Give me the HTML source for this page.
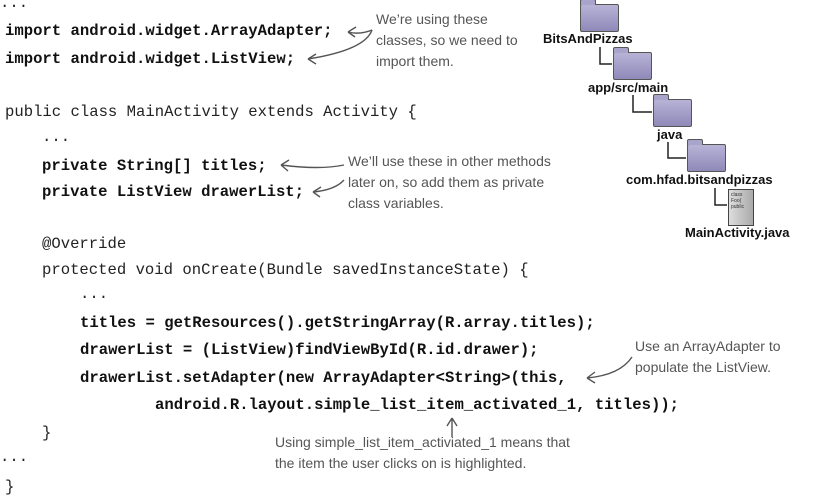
<!DOCTYPE html>
<html><head><meta charset="utf-8"><style>
body{margin:0;width:813px;height:494px;background:#fff;position:relative;overflow:hidden}
.c{position:absolute;font-family:"Liberation Mono",monospace;font-size:15.6px;color:#222;white-space:pre;line-height:18px}
.b{font-weight:bold;color:#111}
.n{position:absolute;font-family:"Liberation Sans",sans-serif;font-size:14px;color:#555;white-space:pre;line-height:21px}
.l{position:absolute;font-family:"Liberation Sans",sans-serif;font-size:13px;font-weight:bold;color:#111;white-space:pre}
.f{position:absolute;width:37px;height:26px;background:linear-gradient(#b8b3d6,#8f89b8);border:1px solid #555;border-radius:2px}
.f:before{content:"";position:absolute;left:-1px;top:-6px;width:14px;height:5px;background:#a9a4cc;border:1px solid #555;border-bottom:none;border-radius:2px 2px 0 0}
</style></head><body>
<div class="c" style="left:0;top:-6px">...</div>
<div class="c b" style="left:5px;top:22px">import android.widget.ArrayAdapter;</div>
<div class="c b" style="left:5px;top:50px">import android.widget.ListView;</div>
<div class="c" style="left:5px;top:103px">public class MainActivity extends Activity {</div>
<div class="c" style="left:42px;top:128px">...</div>
<div class="c b" style="left:42px;top:157px">private String[] titles;</div>
<div class="c b" style="left:42px;top:183px">private ListView drawerList;</div>
<div class="c" style="left:42px;top:235px">@Override</div>
<div class="c" style="left:42px;top:261px">protected void onCreate(Bundle savedInstanceState) {</div>
<div class="c" style="left:80px;top:285px">...</div>
<div class="c b" style="left:80px;top:314px">titles = getResources().getStringArray(R.array.titles);</div>
<div class="c b" style="left:80px;top:341px">drawerList = (ListView)findViewById(R.id.drawer);</div>
<div class="c b" style="left:80px;top:369px">drawerList.setAdapter(new ArrayAdapter&lt;String&gt;(this,</div>
<div class="c b" style="left:155px;top:396px">android.R.layout.simple_list_item_activated_1, titles));</div>
<div class="c" style="left:42px;top:424px">}</div>
<div class="c" style="left:0;top:448px">...</div>
<div class="c" style="left:5px;top:478px">}</div>

<div class="n" style="left:376px;top:9px">We’re using these
classes, so we need to
import them.</div>
<div class="n" style="left:348px;top:151px">We’ll use these in other methods
later on, so add them as private
class variables.</div>
<div class="n" style="left:635px;top:336px">Use an ArrayAdapter to
populate the ListView.</div>
<div class="n" style="left:275px;top:432px">Using simple_list_item_activiated_1 means that
the item the user clicks on is highlighted.</div>

<svg style="position:absolute;left:0;top:0" width="813" height="494" fill="none" stroke="#555" stroke-width="1.4">
<path d="M372 30 Q360 35 348 32 M348 32 l8 -5 M348 32 l7 5"/>
<path d="M372 30 Q365 50 308 59 M308 59 l8 -5 M308 59 l8 5"/>
<path d="M344 165 Q320 170 281 165 M281 165 l8 -5 M281 165 l7 6"/>
<path d="M344 180 Q335 190 313 192 M313 192 l8 -5 M313 192 l7 5"/>
<path d="M632 357 Q620 375 587 378 M587 378 l8 -6 M587 378 l8 5"/>
<path d="M452 437 L452 418 M452 418 l-5 8 M452 418 l5 8"/>
<path stroke="#222" stroke-width="1.5" d="M600 47 V64 H612 M633 95 V112 H652 M668 142 V158 H686 M715 188 V205 H727"/>
</svg>
<div class="f" style="left:580px;top:4px"></div>
<div class="f" style="left:613px;top:52px"></div>
<div class="f" style="left:653px;top:99px"></div>
<div class="f" style="left:687px;top:144px"></div>
<div style="position:absolute;left:728px;top:189px;width:26px;height:37px;background:linear-gradient(90deg,#ddd,#aaa);border:1px solid #444;font:5px 'Liberation Sans';color:#333;padding:2px;box-sizing:border-box">class Foo{ public</div>
<div class="l" style="left:543px;top:31px">BitsAndPizzas</div>
<div class="l" style="left:588px;top:80px">app/src/main</div>
<div class="l" style="left:657px;top:127px">java</div>
<div class="l" style="left:626px;top:172px">com.hfad.bitsandpizzas</div>
<div class="l" style="left:685px;top:225px">MainActivity.java</div>
</body></html>
